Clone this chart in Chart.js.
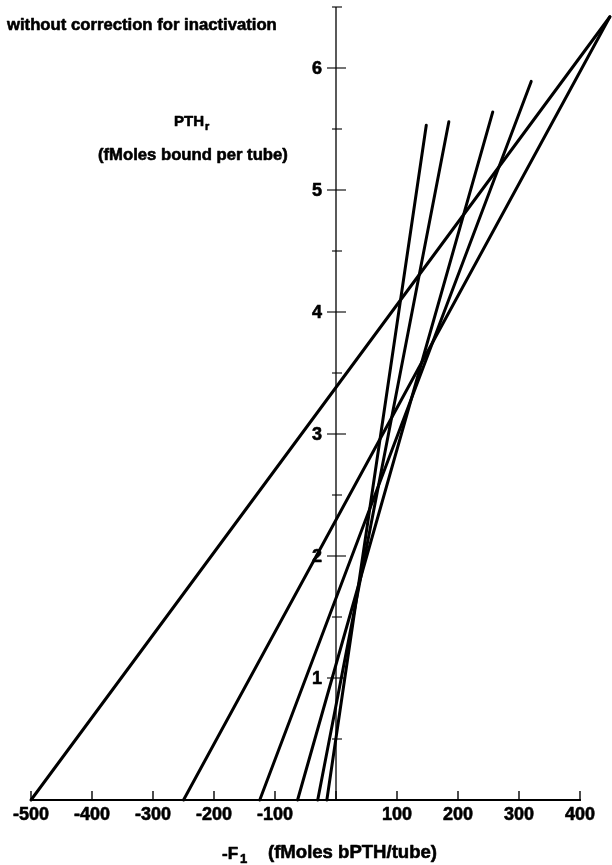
<!DOCTYPE html>
<html>
<head>
<meta charset="utf-8">
<script src="https://cdn.jsdelivr.net/npm/chart.js@4/dist/chart.umd.min.js"></script>
<style>
  html, body { margin: 0; padding: 0; background: #fff; }
  #wrap { width: 612px; height: 865px; position: relative; }
</style>
</head>
<body>
<div id="wrap"><canvas id="c" width="612" height="865"></canvas></div>
<script>
// Where each fitted line meets PTHr = 0, in fMoles bPTH/tube (plotted as -F1)
const startF1 = [-500, -250, -125, -63, -30, -15];
// Upper end of each fitted line
const endF1 = [449, 449, 320, 257, 185, 148];
const endPTHr = [6.42, 6.42, 5.89, 5.64, 5.56, 5.53];

// Axis ranges and tick labels
const xRange = [-500, 400];
const yRange = [0, 6.5];
const xTicks = [-500, -400, -300, -200, -100, 100, 200, 300, 400];
const xTickMarks = [-500, -400, -300, -200, -100, 0, 100, 200, 300, 400];
const yTicks = [1, 2, 3, 4, 5, 6];
const yMinorTicks = [0.5, 1.5, 2.5, 3.5, 4.5, 5.5];

const FONT = '"Liberation Sans", Arial, Helvetica, sans-serif';

const datasets = startF1.map((x0, i) => ({
  data: [{ x: x0, y: 0 }, { x: endF1[i], y: endPTHr[i] }],
  showLine: true,
  borderColor: '#000',
  borderWidth: 3,
  borderCapStyle: 'round',
  pointRadius: 0,
  fill: false,
  clip: false
}));

function fitSize(ctx, text, width) {
  ctx.font = `bold 100px ${FONT}`;
  return 100 * width / ctx.measureText(text).width;
}

// Heavy printed lettering: fill plus a thin outline
function ink(ctx, text, x, y) {
  ctx.fillText(text, x, y);
  ctx.strokeText(text, x, y);
}

// Draws the crossed axes, their ticks and all captions
const axesPlugin = {
  id: 'crossedAxes',
  beforeDatasetsDraw(chart) {
    const ctx = chart.ctx;
    const xs = chart.scales.x, ys = chart.scales.y;
    const x0 = xs.getPixelForValue(0);
    const yBase = ys.getPixelForValue(0);
    ctx.save();
    ctx.strokeStyle = '#000';
    ctx.fillStyle = '#000';

    // horizontal axis
    ctx.lineWidth = 2.2;
    ctx.beginPath();
    ctx.moveTo(xs.getPixelForValue(xRange[0]) - 1, yBase);
    ctx.lineTo(xs.getPixelForValue(xRange[1]) + 1, yBase);
    ctx.stroke();
    ctx.lineWidth = 1.4;
    xTickMarks.forEach(v => {
      const px = xs.getPixelForValue(v);
      ctx.beginPath();
      ctx.moveTo(px, yBase);
      ctx.lineTo(px, yBase - 9);
      ctx.stroke();
    });

    // vertical axis
    const yTop = ys.getPixelForValue(yRange[1]);
    ctx.lineWidth = 1.3;
    ctx.beginPath();
    ctx.moveTo(x0, yBase);
    ctx.lineTo(x0, yTop);
    ctx.stroke();
    ctx.lineWidth = 1.1;
    yTicks.forEach(v => {
      const py = ys.getPixelForValue(v);
      ctx.beginPath();
      ctx.moveTo(x0 - 9, py);
      ctx.lineTo(x0 + 10, py);
      ctx.stroke();
    });
    yMinorTicks.concat([yRange[1]]).forEach(v => {
      const py = ys.getPixelForValue(v);
      ctx.beginPath();
      ctx.moveTo(x0 - 4, py);
      ctx.lineTo(x0 + 6, py);
      ctx.stroke();
    });

    // tick labels
    ctx.lineWidth = 0.6;
    ctx.lineJoin = 'round';
    ctx.font = `bold 18px ${FONT}`;
    ctx.textAlign = 'center';
    ctx.textBaseline = 'middle';
    xTicks.forEach(v => {
      ink(ctx, String(v), xs.getPixelForValue(v), 815);
    });
    ctx.textAlign = 'right';
    yTicks.forEach(v => {
      ink(ctx, String(v), x0 - 14, ys.getPixelForValue(v) + 1);
    });

    // captions
    ctx.textAlign = 'left';
    ctx.textBaseline = 'alphabetic';
    const title = 'without correction for inactivation';
    ctx.font = `bold ${fitSize(ctx, title, 270)}px ${FONT}`;
    ink(ctx, title, 7, 30);

    ctx.font = `bold 15px ${FONT}`;
    ink(ctx, 'PTH', 174, 126);
    const wP = ctx.measureText('PTH').width;
    ctx.font = `bold 11px ${FONT}`;
    ink(ctx, 'r', 174 + wP + 1, 130);

    const yCap = '(fMoles bound per tube)';
    ctx.font = `bold ${fitSize(ctx, yCap, 190)}px ${FONT}`;
    ctx.textBaseline = 'middle';
    ink(ctx, yCap, 98, 155);

    ctx.font = `bold 17px ${FONT}`;
    ctx.textBaseline = 'alphabetic';
    ink(ctx, '-F', 222, 859);
    const wF = ctx.measureText('-F').width;
    ctx.font = `bold 13px ${FONT}`;
    ink(ctx, '1', 222 + wF + 2, 863);

    const xCap = '(fMoles bPTH/tube)';
    ctx.font = `bold ${fitSize(ctx, xCap, 169)}px ${FONT}`;
    ctx.textBaseline = 'middle';
    ink(ctx, xCap, 268, 853);

    ctx.restore();
  }
};

new Chart(document.getElementById('c'), {
  type: 'scatter',
  data: { datasets },
  options: {
    responsive: false,
    animation: false,
    devicePixelRatio: 1,
    layout: { padding: { left: 31, right: 32, top: 7, bottom: 65 } },
    plugins: { legend: { display: false }, tooltip: { enabled: false } },
    scales: {
      x: { type: 'linear', min: xRange[0], max: xRange[1], display: false },
      y: { type: 'linear', min: yRange[0], max: yRange[1], display: false }
    }
  },
  plugins: [axesPlugin]
});
</script>
</body>
</html>
